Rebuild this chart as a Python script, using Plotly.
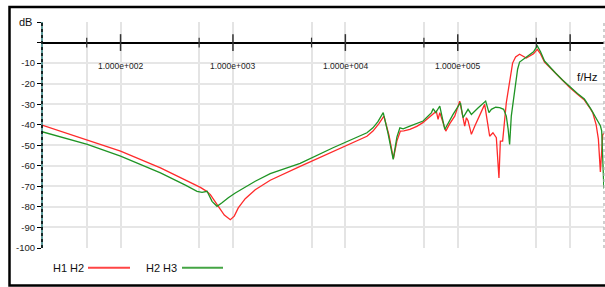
import plotly.graph_objects as go
import math

# ---- data ----
red_name = "H1 H2"
red_f = [20, 50.6, 100, 226.5, 377.5, 512.9, 579.9, 629.3, 741, 837.5, 947, 1027, 1115, 1286,
         1578, 2145, 3959, 7771, 15560, 17600, 19890, 22030, 24400, 26750, 28730, 30860, 33150,
         37480, 43240, 48880, 56400, 64410, 66820, 69180, 78230, 84890, 94000, 104100, 115300,
         119400, 123400, 132200, 141500, 156700, 173500, 192200, 205600, 220400, 232500, 239200,
         250700, 270300, 289300, 307500, 327000, 354800, 406900, 444300, 472400, 509500, 545000,
         591400, 655200, 740600, 854300, 985800, 1161000, 1339000, 1484000, 1587000, 1701000,
         1783000, 1857000, 1946000, 1995000]
red_db = [-40.2, -47.5, -52.9, -61.0, -66.8, -70.5, -72.3, -74.0, -79.7, -84.0, -86.2, -84.5, -80.5,
          -76.0, -71.6, -67.0, -60.3, -52.9, -45.6, -43.1, -39.5, -35.8, -45.0, -56.5, -48.0, -43.1,
          -43.0, -42.3, -40.8, -39.0, -36.0, -33.4, -37.4, -34.1, -43.1, -39.5, -35.8, -28.5, -40.7,
          -36.6, -38.0, -44.7, -40.7, -35.5, -30.1, -45.6, -43.9, -46.3, -65.9, -48.0, -48.0, -29.3,
          -17.9, -10.0, -7.0, -5.7, -7.5, -6.5, -5.5, -3.3, -5.5, -9.5, -12.0, -15.0, -18.5, -21.8,
          -25.2, -28.0, -31.5, -34.1, -39.9, -47.0, -63.0, -45.0, -44.0]

green_name = "H2 H3"
green_f = [20, 50.6, 100, 226.5, 377.5, 479.4, 531.1, 588.3, 651.4, 721.5, 799, 908.9, 1049,
           1286, 1578, 2145, 3959, 7771, 15560, 17600, 19490, 21720, 23910, 26650, 28730, 30550,
           32680, 37480, 43240, 49180, 58400, 60340, 63760, 69180, 76640, 83160, 90800, 105600,
           111400, 123400, 132200, 150500, 177100, 189500, 199000, 217300, 235800, 255900, 270300,
           280500, 289300, 299400, 320300, 340700, 354800, 406900, 435400, 472400, 509500, 545000,
           591400, 655200, 740600, 854300, 985800, 1161000, 1339000, 1536000, 1758000, 1857000,
           1907000, 1955000, 1995000]
green_db = [-43.4, -49.6, -55.3, -63.4, -69.4, -72.4, -72.9, -72.4, -77.3, -79.7, -78.0, -75.5,
            -73.2, -70.2, -67.5, -63.8, -58.8, -51.2, -43.9, -41.5, -38.5, -34.1, -44.0, -56.9, -46.0,
            -41.5, -42.0, -40.7, -39.5, -38.2, -34.1, -32.2, -34.1, -30.9, -42.3, -38.5, -35.0, -29.3,
            -36.6, -32.5, -35.0, -32.0, -28.5, -34.1, -32.5, -31.5, -31.7, -32.5, -35.8, -42.0, -49.6,
            -35.8, -22.8, -13.0, -9.5, -7.3, -6.2, -4.5, -1.6, -4.5, -9.0, -11.8, -14.8, -18.2, -21.4,
            -24.8, -27.5, -32.5, -38.2, -40.5, -43.0, -60.0, -71.0]

x_grid = [50, 100, 500, 1000, 5000, 10000, 50000, 100000, 500000, 1000000]
x_major = [100, 1000, 10000, 100000, 1000000]
x_minor = [50, 500, 5000, 50000, 500000]
x_labels = ["1.000e+002", "1.000e+003", "1.000e+004", "1.000e+005"]
x_range_hz = [20, 2000000]

y_ticks = [10, 0, -10, -20, -30, -40, -50, -60, -70, -80, -90, -100]
y_ticktext = ["", "", "-10", "-20", "-30", "-40", "-50", "-60", "-70", "-80", "-90", "-100"]

RED = "#ff2a2a"
GREEN = "#1f9424"
FONT = "Liberation Sans Narrow, Liberation Sans, Arial, sans-serif"

W, H = 605, 287
# plot area in page pixels
PL, PR, PT, PB = 42, 604, 22, 248
ML, MR, MT, MB = PL, W - PR, PT, H - PB
PW, PH = PR - PL, PB - PT


def px_x(px):
    return (px - PL) / PW


def px_y(py):
    return (PB - py) / PH


fig = go.Figure()
fig.add_trace(go.Scatter(x=red_f, y=red_db, mode="lines", name=red_name,
                         line=dict(color=RED, width=1.3), showlegend=False))
fig.add_trace(go.Scatter(x=green_f, y=green_db, mode="lines", name=green_name,
                         line=dict(color=GREEN, width=1.3), showlegend=False))
# tick marks on the zero axis line
fig.add_trace(go.Scatter(x=x_major, y=[0] * len(x_major), mode="markers", showlegend=False,
                         marker=dict(symbol="line-ns", size=12, line=dict(color="#333", width=1.5))))
fig.add_trace(go.Scatter(x=x_minor, y=[0] * len(x_minor), mode="markers", showlegend=False,
                         marker=dict(symbol="line-ns", size=7, line=dict(color="#333", width=1.2))))

annotations = []
for v, t in zip(x_major, x_labels):
    annotations.append(dict(x=math.log10(v), y=0, xref="x", yref="y", text=t, showarrow=False,
                            yshift=-23, font=dict(family=FONT, size=8.5, color="#222")))
annotations.append(dict(x=px_x(34), y=10, xref="paper", yref="y", text="dB", showarrow=False,
                        xanchor="right", yanchor="middle", font=dict(family=FONT, size=11, color="#111")))
annotations.append(dict(x=px_x(600), y=px_y(77), xref="paper", yref="paper", text="f/Hz",
                        showarrow=False, xanchor="right", yanchor="middle",
                        font=dict(family=FONT, size=11.5, color="#111")))
annotations.append(dict(x=px_x(51), y=px_y(268), xref="paper", yref="paper", text=red_name,
                        showarrow=False, xanchor="left", yanchor="middle",
                        font=dict(family=FONT, size=11, color="#111")))
annotations.append(dict(x=px_x(144), y=px_y(268), xref="paper", yref="paper", text=green_name,
                        showarrow=False, xanchor="left", yanchor="middle",
                        font=dict(family=FONT, size=11, color="#111")))

shapes = [
    # legend lines
    dict(type="line", xref="paper", yref="paper", x0=px_x(88), x1=px_x(130), y0=px_y(267.7),
         y1=px_y(267.7), line=dict(color="#ff4545", width=2)),
    dict(type="line", xref="paper", yref="paper", x0=px_x(182), x1=px_x(223), y0=px_y(267.7),
         y1=px_y(267.7), line=dict(color="#44a544", width=2)),
    # y axis line
    dict(type="line", xref="paper", yref="paper", x0=0, x1=0, y0=0, y1=1,
         line=dict(color="#2a7878", width=1.5)),
    dict(type="line", xref="paper", yref="paper", x0=0, x1=0, y0=0, y1=1,
         line=dict(color="#000000", width=1.5, dash="dot")),
    # right dotted edge
    dict(type="line", xref="paper", yref="paper", x0=1, x1=1, y0=0, y1=1,
         line=dict(color="#b0b0b0", width=1.2, dash="dot")),
    # frame
    dict(type="rect", xref="paper", yref="paper", x0=px_x(9.5), x1=px_x(612), y0=px_y(285.5),
         y1=px_y(7), line=dict(color="#000000", width=2.5)),
]

fig.update_layout(
    width=W, height=H,
    margin=dict(l=ML, r=MR, t=MT, b=MB),
    paper_bgcolor="white", plot_bgcolor="white",
    hovermode=False,
    annotations=annotations, shapes=shapes,
    font=dict(family=FONT, size=10, color="#222"),
    xaxis=dict(type="log", range=[math.log10(x_range_hz[0]), math.log10(x_range_hz[1])],
               tickvals=x_grid, showticklabels=False, ticks="", showgrid=True,
               gridcolor="#e4e4e4", gridwidth=2, zeroline=False, showline=False),
    yaxis=dict(range=[-100, 10], tickvals=y_ticks, ticktext=y_ticktext, ticks="outside",
               ticklen=4, tickcolor="#000", tickwidth=1, showgrid=True, gridcolor="#e6e6e6",
               gridwidth=1.5, zeroline=True, zerolinecolor="#000", zerolinewidth=1.5,
               showline=False, tickfont=dict(family=FONT, size=9.5, color="#222")),
)

fig.write_html(
    "out.html",
    config={"displayModeBar": False},
    post_script="document.body.style.margin='0';document.body.style.overflow='hidden';",
)
